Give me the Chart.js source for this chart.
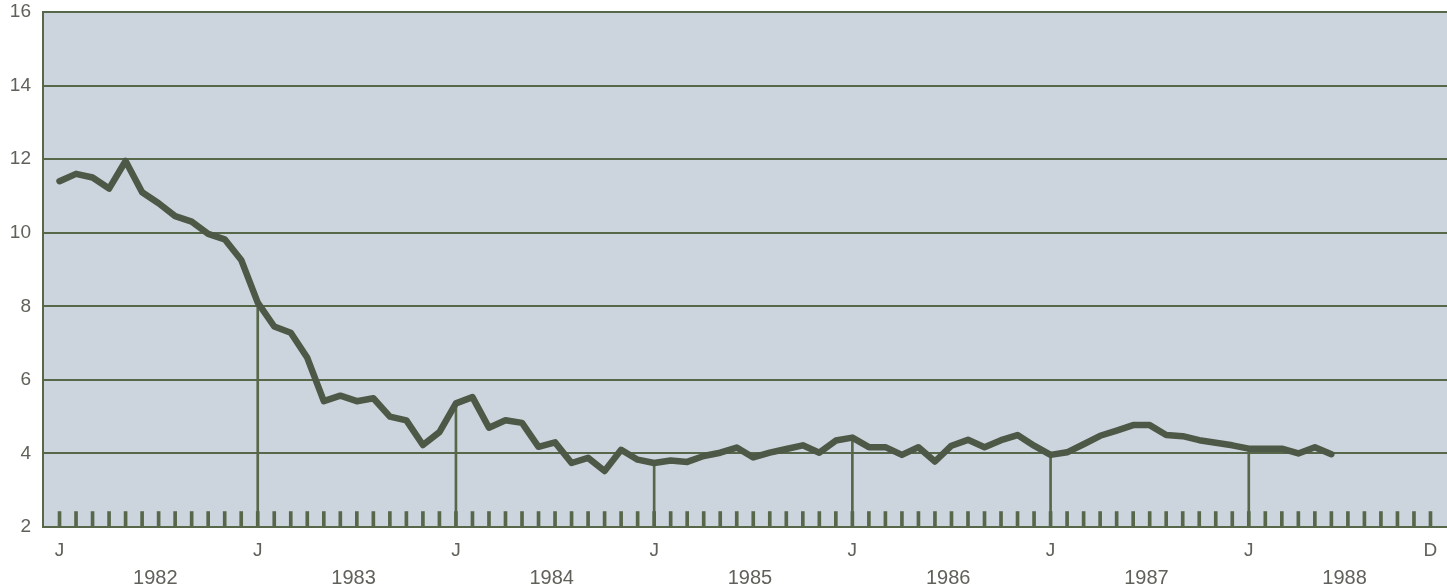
<!DOCTYPE html>
<html>
<head>
<meta charset="utf-8">
<script src="https://cdn.jsdelivr.net/npm/chart.js@4/dist/chart.umd.min.js"></script>
<style>
  html, body { margin: 0; padding: 0; background: #ffffff; }
  #wrap { width: 1447px; height: 584px; position: relative; }
</style>
</head>
<body>
<div id="wrap"><canvas id="chartRate"></canvas></div>
<script>
// monthly values, Jan 1982 .. Jun 1988
const rates = [
  11.4, 11.6, 11.5, 11.2, 11.95, 11.1, 10.8, 10.45, 10.3, 9.97, 9.82, 9.26,
  8.1, 7.45, 7.28, 6.6, 5.42, 5.57, 5.42, 5.5, 5.0, 4.9, 4.23, 4.58,
  5.36, 5.53, 4.7, 4.9, 4.83, 4.18, 4.3, 3.74, 3.88, 3.52, 4.1, 3.83,
  3.74, 3.81, 3.77, 3.93, 4.02, 4.16, 3.89, 4.02, 4.12, 4.22, 4.02, 4.35,
  4.43, 4.17, 4.17, 3.96, 4.17, 3.78, 4.21, 4.37, 4.17, 4.36, 4.5, 4.21,
  3.96, 4.03, 4.25, 4.48, 4.62, 4.77, 4.77, 4.5, 4.47, 4.36, 4.29, 4.22,
  4.13, 4.13, 4.13, 4.0, 4.17, 3.98
]
const years = ['1982', '1983', '1984', '1985', '1986', '1987', '1988']
const monthCount = 84
const yTicks = [2, 4, 6, 8, 10, 12, 14, 16]
const tickMarkTop = 2.42

const gridColor = '#56674a'
const lineColor = '#4e5847'
const textColor = '#5f625a'
const fontFamily = "'Liberation Sans', Arial, sans-serif"

const lineData = rates.map((v, i) => ({ x: i, y: v }))
const monthTicks = []
for (let i = 0; i < monthCount; i++) {
    monthTicks.push({ x: i, y: [2, tickMarkTop] })
}
const dropLines = []
for (let i = 12; i < rates.length; i += 12) {
    dropLines.push({ x: i, y: [2, rates[i]] })
}
const januaryTicks = []
for (let i = 0; i < monthCount; i += 12) januaryTicks.push(i)
januaryTicks.push(monthCount - 1)
// year labels sit roughly mid-year
const yearTicks = years.map((y, k) => k * 12 + 5.8)

const plotBackground = {
    id: 'plotBackground',
    beforeDraw(chart) {
        const { ctx, chartArea } = chart
        ctx.save()
        ctx.fillStyle = '#ccd4dd'
        ctx.fillRect(chartArea.left, chartArea.top, chartArea.right - chartArea.left, chartArea.bottom - chartArea.top)
        ctx.restore()
    }
}

const ctxRate = document.getElementById('chartRate').getContext('2d')
const chartRate = new Chart(ctxRate, {
    type: 'line',
    data: {
        datasets: [
            {
                type: 'line',
                data: lineData,
                borderColor: lineColor,
                borderWidth: 6.5,
                pointRadius: 0,
                tension: 0,
                borderJoinStyle: 'round',
                borderCapStyle: 'round',
                order: 0
            },
            {
                type: 'bar',
                data: dropLines,
                backgroundColor: gridColor,
                barThickness: 2,
                grouped: false,
                order: 1
            },
            {
                type: 'bar',
                data: monthTicks,
                backgroundColor: gridColor,
                barThickness: 3,
                grouped: false,
                order: 2
            }
        ]
    },
    options: {
        responsive: true,
        maintainAspectRatio: false,
        animation: false,
        layout: { padding: { top: 12, right: 0, left: 0, bottom: 0 } },
        plugins: {
            legend: { display: false },
            tooltip: { enabled: false }
        },
        scales: {
            x: {
                type: 'linear',
                min: -1,
                max: monthCount,
                offset: false,
                weight: 0,
                afterBuildTicks: (scale) => { scale.ticks = januaryTicks.map(v => ({ value: v })) },
                afterFit: (scale) => {
                    scale.height = 34
                    scale.paddingLeft = 0
                    scale.paddingRight = 0
                },
                grid: { display: false, offset: false, drawTicks: false },
                border: { display: true, color: gridColor, width: 2 },
                ticks: {
                    autoSkip: false,
                    maxRotation: 0,
                    padding: 12,
                    color: textColor,
                    font: { family: fontFamily, size: 19 },
                    callback: (v) => v === monthCount - 1 ? 'D' : 'J'
                }
            },
            x2: {
                type: 'linear',
                position: 'bottom',
                min: -1,
                max: monthCount,
                offset: false,
                weight: 1,
                afterBuildTicks: (scale) => { scale.ticks = yearTicks.map(v => ({ value: v })) },
                afterFit: (scale) => {
                    scale.height = 23
                    scale.paddingLeft = 0
                    scale.paddingRight = 0
                },
                grid: { display: false, drawTicks: false },
                border: { display: false },
                ticks: {
                    autoSkip: false,
                    maxRotation: 0,
                    padding: 5,
                    color: textColor,
                    font: { family: fontFamily, size: 20 },
                    callback: (v, i) => years[i]
                }
            },
            y: {
                min: 2,
                max: 16,
                afterBuildTicks: (scale) => { scale.ticks = yTicks.map(v => ({ value: v })) },
                afterFit: (scale) => {
                    scale.width = 43
                    scale.paddingTop = 0
                    scale.paddingBottom = 0
                },
                grid: { color: gridColor, lineWidth: 2, drawTicks: false },
                border: { display: true, color: gridColor, width: 2 },
                ticks: {
                    padding: 12,
                    color: textColor,
                    font: { family: fontFamily, size: 19 }
                }
            }
        }
    },
    plugins: [plotBackground]
})
</script>
</body>
</html>
